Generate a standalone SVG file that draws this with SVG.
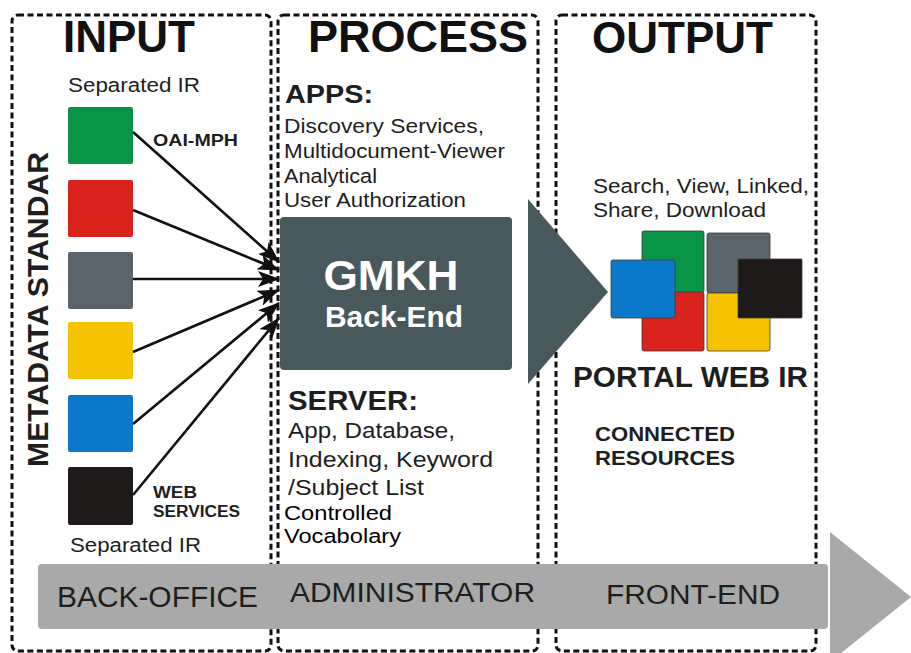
<svg xmlns="http://www.w3.org/2000/svg" width="911" height="653" viewBox="0 0 911 653">
  <style>
    text { font-family: "Liberation Sans", Arial, Helvetica, sans-serif; fill: #1e1e1e; }
    .title { font-size: 44px; font-weight: bold; fill: #111; }
    .bold { font-weight: bold; }
    .col { fill: none; stroke: #111; stroke-width: 3; stroke-dasharray: 6 3.5; }
    .link { stroke: #111; stroke-width: 2.6; fill: none; marker-end: url(#head); }
    .slate { fill: #47595c; }
    .tile { stroke: #3a3a3a; stroke-width: 0.8; }
  </style>
  <defs>
    <marker id="head" viewBox="0 0 22 16" refX="21" refY="8" markerWidth="22" markerHeight="16" markerUnits="userSpaceOnUse" orient="auto">
      <path d="M0,0 L22,8 L0,16 L5,8 Z" fill="#111"/>
    </marker>
  </defs>

  <rect width="911" height="653" fill="#ffffff"/>

  <!-- Column frames -->
  <g id="columns">
    <rect class="col" x="12" y="15" width="259" height="636" rx="6"/>
    <rect class="col" x="278" y="15" width="260" height="636" rx="6"/>
    <rect class="col" x="556" y="15" width="260" height="636" rx="6"/>
  </g>

  <!-- Column headings -->
  <g id="headings">
    <text class="title" x="63" y="52">INPUT</text>
    <text class="title" x="308" y="52" textLength="220" lengthAdjust="spacingAndGlyphs">PROCESS</text>
    <text class="title" x="592" y="53">OUTPUT</text>
  </g>

  <!-- INPUT column -->
  <g id="input">
    <text x="68" y="92" font-size="20" textLength="132" lengthAdjust="spacingAndGlyphs">Separated IR</text>
    <text class="bold" x="48" y="467" font-size="29" transform="rotate(-90 48 467)" textLength="315" lengthAdjust="spacingAndGlyphs">METADATA STANDAR</text>
    <g id="sources">
      <rect x="68" y="107" width="65" height="57" rx="2" fill="#0a9447"/>
      <rect x="68" y="180" width="65" height="57" rx="2" fill="#d9231c"/>
      <rect x="68" y="252" width="65" height="57" rx="2" fill="#5c646b"/>
      <rect x="68" y="322" width="65" height="57" rx="2" fill="#f6c300"/>
      <rect x="68" y="395" width="65" height="57" rx="2" fill="#0a79c9"/>
      <rect x="68" y="467" width="65" height="58" rx="2" fill="#1e1a19"/>
    </g>
    <text class="bold" x="153" y="146" font-size="17" textLength="85" lengthAdjust="spacingAndGlyphs">OAI-MPH</text>
    <text class="bold" x="153" y="498" font-size="16" textLength="44" lengthAdjust="spacingAndGlyphs">WEB</text>
    <text class="bold" x="153" y="517" font-size="16" textLength="87" lengthAdjust="spacingAndGlyphs">SERVICES</text>
    <text x="70" y="552" font-size="20" textLength="131" lengthAdjust="spacingAndGlyphs">Separated IR</text>
  </g>

  <!-- Connectors from sources to the back-end -->
  <g id="connectors">
    <line class="link" x1="133" y1="132" x2="279" y2="262"/>
    <line class="link" x1="133" y1="210" x2="279" y2="270"/>
    <line class="link" x1="133" y1="279" x2="279" y2="279"/>
    <line class="link" x1="133" y1="352" x2="279" y2="290"/>
    <line class="link" x1="133" y1="424" x2="279" y2="303"/>
    <line class="link" x1="133" y1="495" x2="279" y2="318"/>
  </g>

  <!-- PROCESS column -->
  <g id="process">
    <text class="bold" x="285" y="103" font-size="25" textLength="88" lengthAdjust="spacingAndGlyphs">APPS:</text>
    <text x="284" y="133" font-size="20" textLength="200" lengthAdjust="spacingAndGlyphs">Discovery Services,</text>
    <text x="284" y="158" font-size="20" textLength="221" lengthAdjust="spacingAndGlyphs">Multidocument-Viewer</text>
    <text x="284" y="183" font-size="20" textLength="93" lengthAdjust="spacingAndGlyphs">Analytical</text>
    <text x="284" y="207" font-size="20" textLength="182" lengthAdjust="spacingAndGlyphs">User Authorization</text>
  </g>

  <g id="backend">
    <rect class="slate" x="280" y="217" width="232" height="153" rx="4"/>
    <text class="bold" x="391" y="290" font-size="42" text-anchor="middle" style="fill:#ffffff" textLength="135" lengthAdjust="spacingAndGlyphs">GMKH</text>
    <text class="bold" x="394" y="327" font-size="29" text-anchor="middle" style="fill:#ffffff" textLength="138" lengthAdjust="spacingAndGlyphs">Back-End</text>
  </g>

  <g id="server">
    <text class="bold" x="288" y="410" font-size="28" textLength="130" lengthAdjust="spacingAndGlyphs">SERVER:</text>
    <text x="288" y="438" font-size="22" textLength="167" lengthAdjust="spacingAndGlyphs">App, Database,</text>
    <text x="288" y="467" font-size="22" textLength="205" lengthAdjust="spacingAndGlyphs">Indexing, Keyword</text>
    <text x="288" y="495" font-size="22" textLength="136" lengthAdjust="spacingAndGlyphs">/Subject List</text>
    <text x="284" y="520" font-size="20" style="fill:#000" textLength="108" lengthAdjust="spacingAndGlyphs">Controlled</text>
    <text x="284" y="543" font-size="20" style="fill:#000" textLength="117" lengthAdjust="spacingAndGlyphs">Vocabolary</text>
  </g>

  <!-- Flow arrow from back-end to portal -->
  <g id="flow">
    <polygon class="slate" points="528,199 608,292 528,384"/>
  </g>

  <!-- OUTPUT column -->
  <g id="output">
    <text x="593" y="193" font-size="20" textLength="216" lengthAdjust="spacingAndGlyphs">Search, View, Linked,</text>
    <text x="593" y="217" font-size="20" textLength="173" lengthAdjust="spacingAndGlyphs">Share, Download</text>
  </g>

  <g id="portal">
    <rect class="tile" x="642" y="231" width="62" height="62" rx="2" fill="#0a9447"/>
    <rect class="tile" x="707" y="233" width="63" height="60" rx="2" fill="#5c646b"/>
    <rect class="tile" x="642" y="292" width="62" height="59" rx="2" fill="#d9231c"/>
    <rect class="tile" x="707" y="293" width="63" height="58" rx="2" fill="#f6c300"/>
    <rect class="tile" x="611" y="260" width="64" height="58" rx="2" fill="#0a79c9"/>
    <rect class="tile" x="738" y="259" width="64" height="59" rx="1" fill="#1e1a19"/>
    <text class="bold" x="573" y="387" font-size="29" textLength="235" lengthAdjust="spacingAndGlyphs">PORTAL WEB IR</text>
    <text class="bold" x="595" y="441" font-size="21" textLength="140" lengthAdjust="spacingAndGlyphs">CONNECTED</text>
    <text class="bold" x="595" y="465" font-size="21" textLength="140" lengthAdjust="spacingAndGlyphs">RESOURCES</text>
  </g>

  <!-- Timeline band along the bottom -->
  <g id="band">
    <rect x="38" y="564" width="790" height="65" rx="4" fill="#a9a9a9"/>
    <polygon points="830,532 911,597 830,662" fill="#a9a9a9"/>
    <text x="57" y="607" font-size="29" textLength="201" lengthAdjust="spacingAndGlyphs">BACK-OFFICE</text>
    <text x="290" y="602" font-size="27" textLength="245" lengthAdjust="spacingAndGlyphs">ADMINISTRATOR</text>
    <text x="606" y="604" font-size="27" textLength="174" lengthAdjust="spacingAndGlyphs">FRONT-END</text>
  </g>
</svg>
